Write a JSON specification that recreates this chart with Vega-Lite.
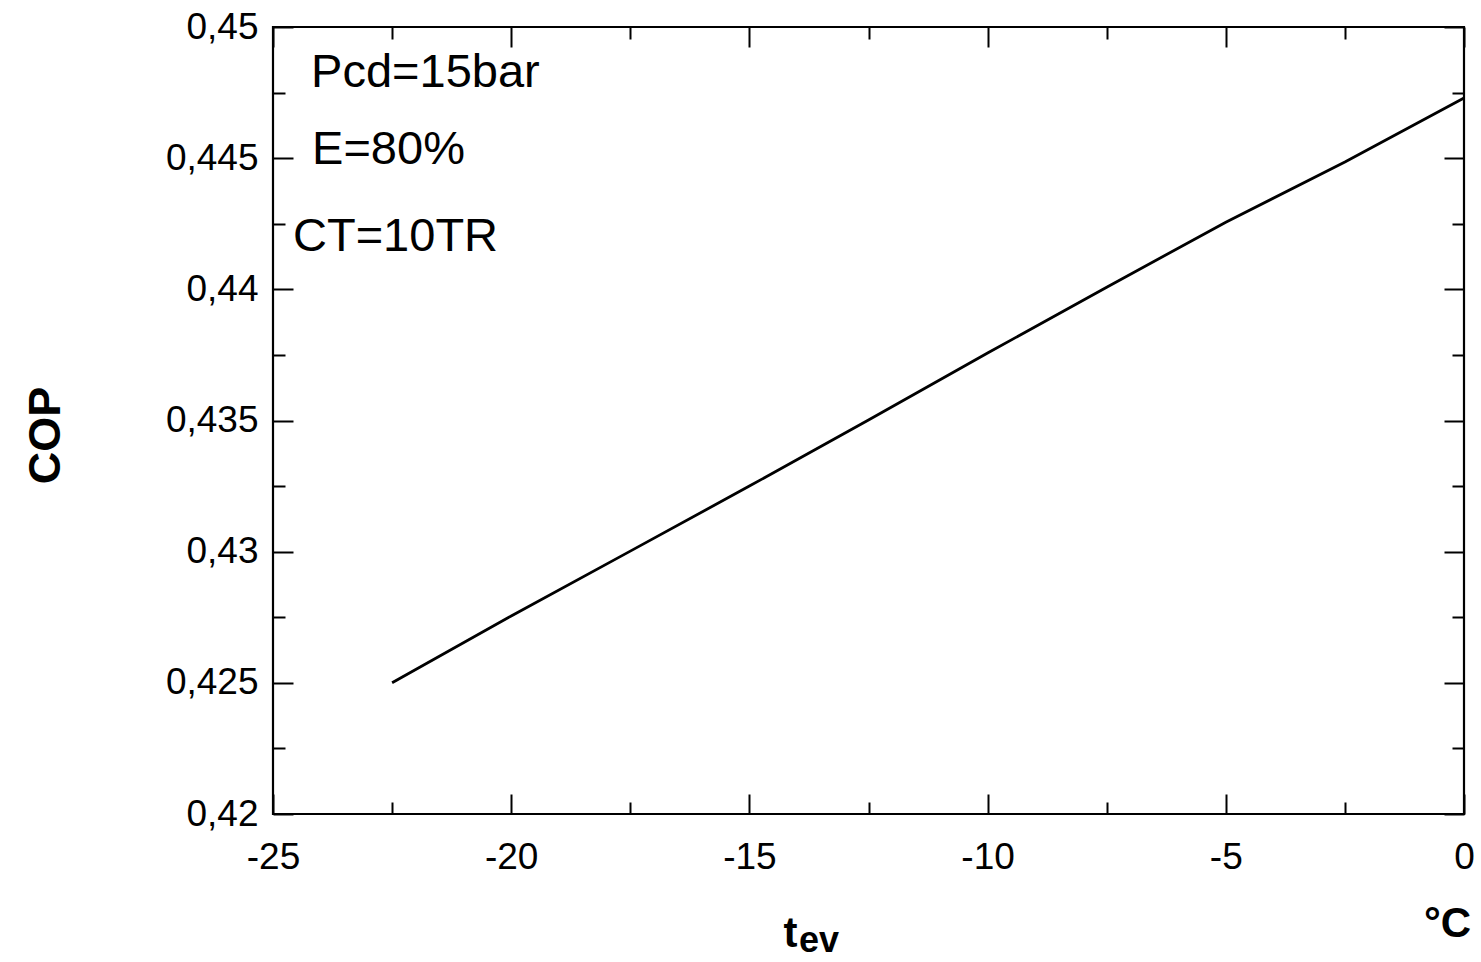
{
  "$schema": "https://vega.github.io/schema/vega-lite/v6.json",
  "width": 1191,
  "height": 787,
  "autosize": {"type": "none"},
  "padding": {"left": 273, "top": 27, "right": 17, "bottom": 148},
  "background": "white",
  "config": {
    "view": {"stroke": "black", "strokeWidth": 2.2},
    "font": "Liberation Sans",
    "axis": {"grid": false, "domain": false, "tickColor": "black", "tickWidth": 2, "labelColor": "black", "titleColor": "black", "labelFont": "Liberation Sans", "titleFont": "Liberation Sans"}
  },
  "datasets": {
    "curve": [
      {"t": -22.5, "cop": 0.4250},
      {"t": -20, "cop": 0.42755},
      {"t": -17.5, "cop": 0.43002},
      {"t": -15, "cop": 0.4325},
      {"t": -12.5, "cop": 0.43502},
      {"t": -10, "cop": 0.43757},
      {"t": -7.5, "cop": 0.44008},
      {"t": -5, "cop": 0.44256},
      {"t": -2.5, "cop": 0.44485},
      {"t": 0, "cop": 0.44729}
    ],
    "notes": [
      {"t": -24.2, "cop": 0.44824, "label": "Pcd=15bar"},
      {"t": -24.18, "cop": 0.4453, "label": "E=80%"},
      {"t": -24.58, "cop": 0.44199, "label": "CT=10TR"}
    ],
    "unit": [
      {"t": 0.15, "cop": 0.41531, "label": "°C"}
    ],
    "sub": [
      {"t": -13.96, "cop": 0.41475, "label": "ev"}
    ]
  },
  "layer": [
    {
      "data": {"name": "curve"},
      "mark": {"type": "line", "color": "black", "strokeWidth": 2.8},
      "encoding": {
        "x": {
          "field": "t", "type": "quantitative",
          "scale": {"domain": [-25, 0], "nice": false, "zero": false},
          "axis": {
            "orient": "bottom",
            "values": [-25, -22.5, -20, -17.5, -15, -12.5, -10, -7.5, -5, -2.5, 0],
            "tickSize": {"condition": {"test": "round(datum.value/2.5) % 2 == 0", "value": -20}, "value": -12},
            "labelExpr": "round(datum.value/2.5) % 2 == 0 ? '' + datum.value : ''",
            "labelFontSize": 37,
            "labelPadding": 45,
            "labelFlush": false,
            "labelOverlap": false,
            "title": "t",
            "titleFontSize": 42,
            "titleFontWeight": "bold",
            "titleX": 517,
            "titleY": 132,
            "titleAlign": "center",
            "titleBaseline": "alphabetic"
          }
        },
        "y": {
          "field": "cop", "type": "quantitative",
          "scale": {"domain": [0.42, 0.45], "nice": false, "zero": false},
          "axis": {
            "orient": "left",
            "values": [0.42, 0.4225, 0.425, 0.4275, 0.43, 0.4325, 0.435, 0.4375, 0.44, 0.4425, 0.445, 0.4475, 0.45],
            "tickSize": {"condition": {"test": "round(datum.value*400) % 2 == 0", "value": -20}, "value": -12},
            "labelExpr": "round(datum.value*400) % 2 == 0 ? replace(format(datum.value, '.3~f'), '.', ',') : ''",
            "labelFontSize": 37,
            "labelPadding": 35,
            "labelFlush": false,
            "labelOverlap": false,
            "title": "COP",
            "titleFontSize": 45,
            "titleFontWeight": "bold",
            "titleX": -228,
            "titleY": 408,
            "titleAngle": -90,
            "titleAlign": "center",
            "titleBaseline": "middle"
          }
        }
      }
    },
    {
      "data": {"name": "notes"},
      "mark": {"type": "text", "align": "left", "baseline": "middle", "fontSize": 47, "font": "Liberation Sans", "color": "black"},
      "encoding": {
        "x": {
          "field": "t", "type": "quantitative",
          "scale": {"domain": [-25, 0], "nice": false, "zero": false},
          "axis": {
            "orient": "top",
            "values": [-25, -22.5, -20, -17.5, -15, -12.5, -10, -7.5, -5, -2.5, 0],
            "tickSize": {"condition": {"test": "round(datum.value/2.5) % 2 == 0", "value": -20}, "value": -12},
            "labels": false,
            "title": null
          }
        },
        "y": {
          "field": "cop", "type": "quantitative",
          "scale": {"domain": [0.42, 0.45], "nice": false, "zero": false},
          "axis": {
            "orient": "right",
            "values": [0.42, 0.4225, 0.425, 0.4275, 0.43, 0.4325, 0.435, 0.4375, 0.44, 0.4425, 0.445, 0.4475, 0.45],
            "tickSize": {"condition": {"test": "round(datum.value*400) % 2 == 0", "value": -20}, "value": -12},
            "labels": false,
            "title": null
          }
        },
        "text": {"field": "label"}
      }
    },
    {
      "data": {"name": "unit"},
      "mark": {"type": "text", "align": "right", "baseline": "alphabetic", "fontSize": 42, "fontWeight": "bold", "font": "Liberation Sans", "color": "black"},
      "encoding": {
        "x": {"field": "t", "type": "quantitative", "axis": null},
        "y": {"field": "cop", "type": "quantitative", "axis": null},
        "text": {"field": "label"}
      }
    },
    {
      "data": {"name": "sub"},
      "mark": {"type": "text", "align": "left", "baseline": "alphabetic", "fontSize": 36, "fontWeight": "bold", "font": "Liberation Sans", "color": "black"},
      "encoding": {
        "x": {"field": "t", "type": "quantitative", "axis": null},
        "y": {"field": "cop", "type": "quantitative", "axis": null},
        "text": {"field": "label"}
      }
    }
  ],
  "resolve": {"axis": {"x": "independent", "y": "independent"}}
}
